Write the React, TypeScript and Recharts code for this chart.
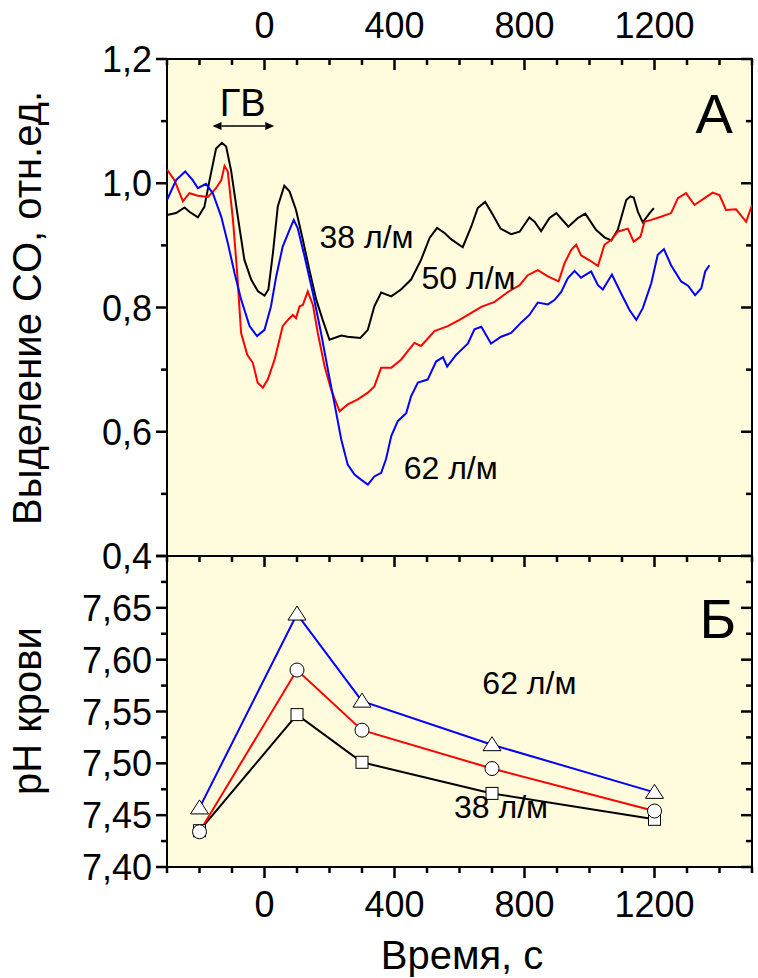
import React from 'react'
import {
  LineChart,
  Line,
  XAxis,
  YAxis,
  CartesianGrid,
  ReferenceArea,
  ReferenceDot,
  ReferenceLine,
} from 'recharts'

const FONT = '"Liberation Sans", Arial, sans-serif'
const PANEL_BG = '#fffbdc'

// time axis, seconds
const TIME_TICKS = [-300, -200, -100, 0, 100, 200, 300, 400, 500, 600, 700, 800, 900, 1000, 1100, 1200, 1300, 1400, 1500]
const TIME_MAJOR = [0, 400, 800, 1200]
const CO_TICKS = [0.4, 0.5, 0.6, 0.7, 0.8, 0.9, 1.0, 1.1, 1.2]
const CO_MAJOR = [0.4, 0.6, 0.8, 1.0, 1.2]
const PH_TICKS = [7.4, 7.425, 7.45, 7.475, 7.5, 7.525, 7.55, 7.575, 7.6, 7.625, 7.65, 7.675, 7.7]
const PH_MAJOR = [7.4, 7.45, 7.5, 7.55, 7.6, 7.65]

// panel A, CO release [time, rel. units]
const co38: [number, number][] = [
  [-300, 0.949], [-272, 0.952], [-246, 0.961], [-231, 0.954], [-205, 0.945], [-185, 0.962], [-169, 1.005],
  [-149, 1.056], [-131, 1.065], [-118, 1.059], [-103, 1.021], [-82, 0.946], [-62, 0.877], [-41, 0.845],
  [-20, 0.826], [0, 0.819], [12, 0.829], [26, 0.888], [41, 0.963], [61, 0.996], [77, 0.987], [97, 0.957],
  [118, 0.909], [138, 0.861], [159, 0.813], [179, 0.78], [200, 0.748], [236, 0.755], [256, 0.753],
  [295, 0.751], [318, 0.764], [338, 0.802], [359, 0.824], [390, 0.818], [420, 0.829], [451, 0.845],
  [482, 0.877], [508, 0.912], [531, 0.928], [554, 0.92], [574, 0.91], [610, 0.897], [636, 0.93],
  [656, 0.96], [679, 0.97], [703, 0.949], [726, 0.927], [759, 0.918], [785, 0.922], [815, 0.945],
  [831, 0.938], [851, 0.923], [877, 0.944], [898, 0.952], [935, 0.93], [964, 0.944], [987, 0.951],
  [1020, 0.925], [1046, 0.913], [1067, 0.908], [1087, 0.925], [1113, 0.973], [1126, 0.979], [1136, 0.977],
  [1149, 0.954], [1164, 0.937], [1185, 0.952], [1198, 0.96],
]

const co50: [number, number][] = [
  [-300, 1.022], [-277, 1.005], [-251, 0.971], [-231, 0.984], [-205, 0.98], [-174, 0.978], [-149, 0.992],
  [-133, 1.005], [-123, 1.028], [-113, 1.019], [-97, 0.941], [-84, 0.855], [-72, 0.759], [-53, 0.724],
  [-36, 0.711], [-21, 0.679], [-5, 0.671], [10, 0.684], [31, 0.716], [46, 0.748], [56, 0.77], [72, 0.78],
  [87, 0.788], [97, 0.783], [108, 0.802], [118, 0.804], [133, 0.826], [149, 0.804], [164, 0.759],
  [185, 0.705], [205, 0.668], [231, 0.633], [256, 0.644], [287, 0.652], [318, 0.663], [338, 0.673],
  [359, 0.703], [390, 0.703], [420, 0.716], [461, 0.743], [482, 0.738], [523, 0.762], [564, 0.77],
  [600, 0.78], [626, 0.788], [667, 0.801], [708, 0.809], [749, 0.825], [785, 0.836], [810, 0.852],
  [841, 0.86], [872, 0.85], [905, 0.842], [923, 0.871], [944, 0.893], [959, 0.901], [974, 0.884],
  [1000, 0.876], [1026, 0.867], [1046, 0.901], [1067, 0.909], [1087, 0.922], [1118, 0.927], [1136, 0.906],
  [1157, 0.914], [1169, 0.938], [1190, 0.941], [1220, 0.946], [1251, 0.952], [1272, 0.976], [1297, 0.984],
  [1323, 0.965], [1354, 0.976], [1379, 0.985], [1400, 0.981], [1420, 0.957], [1451, 0.958], [1482, 0.938],
  [1500, 0.965],
]

const co62: [number, number][] = [
  [-300, 0.973], [-272, 1.005], [-244, 1.019], [-221, 1.005], [-205, 0.992], [-180, 0.999], [-159, 0.984],
  [-133, 0.946], [-113, 0.904], [-92, 0.855], [-72, 0.813], [-46, 0.77], [-23, 0.754], [0, 0.764],
  [20, 0.802], [36, 0.85], [56, 0.898], [77, 0.925], [90, 0.941], [102, 0.928], [123, 0.883], [149, 0.823],
  [174, 0.759], [195, 0.7], [215, 0.646], [236, 0.588], [256, 0.547], [277, 0.531], [297, 0.523],
  [318, 0.515], [338, 0.528], [359, 0.534], [374, 0.556], [390, 0.593], [410, 0.617], [436, 0.63],
  [451, 0.657], [472, 0.679], [502, 0.684], [528, 0.713], [549, 0.72], [562, 0.705], [590, 0.724],
  [600, 0.729], [626, 0.742], [646, 0.765], [667, 0.769], [697, 0.742], [728, 0.753], [759, 0.759],
  [790, 0.776], [815, 0.788], [841, 0.808], [872, 0.805], [892, 0.812], [913, 0.825], [933, 0.847],
  [954, 0.859], [974, 0.848], [1005, 0.858], [1026, 0.836], [1041, 0.829], [1069, 0.853], [1097, 0.823],
  [1123, 0.796], [1144, 0.78], [1164, 0.799], [1190, 0.839], [1210, 0.885], [1229, 0.894], [1251, 0.868],
  [1282, 0.842], [1303, 0.835], [1325, 0.82], [1344, 0.831], [1356, 0.858], [1369, 0.868],
]

// panel Б, blood pH
const PH_TIME = [-200, 100, 300, 700, 1200]
const ph38 = [7.435, 7.547, 7.501, 7.471, 7.446]
const ph50 = [7.434, 7.59, 7.532, 7.495, 7.454]
const ph62 = [7.457, 7.644, 7.56, 7.518, 7.472]

const toPoints = (pairs: [number, number][]) => pairs.map(([t, v]) => ({ t, v }))
const phPoints = (vals: number[]) => PH_TIME.map((t, i) => ({ t, v: vals[i] }))

const fmtCo = (v: number) => v.toFixed(1).replace('.', ',')
const fmtPh = (v: number) => v.toFixed(2).replace('.', ',')

const MAJOR = 11
const MINOR = 6
const TW = 2.5 // tick mark thickness

const timeLabel = (dy: number) => (p: any) => (
  <text x={p.x} y={p.y + dy} textAnchor="middle" fontSize={36} fontFamily={FONT} fill="#000">
    {p.payload.value}
  </text>
)

const valueLabel = (fmt: (v: number) => string) => (p: any) => (
  <text x={p.x - 15} y={p.y + 13} textAnchor="end" fontSize={36} fontFamily={FONT} fill="#000">
    {fmt(p.payload.value)}
  </text>
)

// tick marks sit on the ends of full-span reference segments
// vertical: inward from the top edge, optionally outward below the bottom edge
const vTick = (len: number, outBottom: boolean) => (p: any) => {
  const x = Number(p.x1)
  const top = Math.min(Number(p.y1), Number(p.y2))
  const bot = Math.max(Number(p.y1), Number(p.y2))
  return (
    <g>
      <rect x={x - TW / 2} y={top} width={TW} height={len} fill="#000" />
      {outBottom && <rect x={x - TW / 2} y={bot} width={TW} height={len} fill="#000" />}
    </g>
  )
}

// horizontal: outward on the left edge, inward on the right edge
const hTick = (len: number) => (p: any) => {
  const y = Number(p.y1)
  const l = Math.min(Number(p.x1), Number(p.x2))
  const r = Math.max(Number(p.x1), Number(p.x2))
  return (
    <g>
      <rect x={l - len} y={y - TW / 2} width={len} height={TW} fill="#000" />
      <rect x={r - len} y={y - TW / 2} width={len} height={TW} fill="#000" />
    </g>
  )
}

const note = (text: string, size: number) => (p: any) => (
  <text x={p.cx} y={p.cy} dy="0.36em" textAnchor="middle" fontSize={size} fontFamily={FONT} fill="#000">
    {text}
  </text>
)

function GvArrow(p: any) {
  const { x1, y1, x2, y2 } = p
  const h = 9
  const w = 4
  return (
    <g>
      <line x1={x1 + h} y1={y1} x2={x2 - h} y2={y2} stroke="#000" strokeWidth={1.5} />
      <polygon points={`${x1},${y1} ${x1 + h},${y1 - w} ${x1 + h},${y1 + w}`} fill="#000" />
      <polygon points={`${x2},${y2} ${x2 - h},${y2 - w} ${x2 - h},${y2 + w}`} fill="#000" />
    </g>
  )
}

function TriangleDot(p: any) {
  const { cx, cy } = p
  if (cx == null || cy == null) return <g />
  return <polygon points={`${cx},${cy - 8} ${cx - 9},${cy + 6} ${cx + 9},${cy + 6}`} fill="#fff" stroke="#000" strokeWidth={1} />
}

function CircleDot(p: any) {
  const { cx, cy } = p
  if (cx == null || cy == null) return <g />
  return <circle cx={cx} cy={cy} r={7} fill="#fff" stroke="#000" strokeWidth={1} />
}

function SquareDot(p: any) {
  const { cx, cy } = p
  if (cx == null || cy == null) return <g />
  return <rect x={cx - 6} y={cy - 6} width={12} height={12} fill="#fff" stroke="#000" strokeWidth={1} />
}

const axisCommon = {
  type: 'number' as const,
  axisLine: false,
  tickLine: false,
  tickSize: 0,
  tickMargin: 0,
  interval: 0 as const,
  allowDataOverflow: true,
}

const isIn = (list: number[], v: number) => list.some((m) => Math.abs(m - v) < 1e-6)

export default function App() {
  return (
    <div style={{ position: 'absolute', left: 0, top: 0, width: 758, height: 978, background: '#fff' }}>
      {/* A: CO release */}
      <div style={{ position: 'absolute', left: 0, top: 0 }}>
        <LineChart width={758} height={600} margin={{ top: 0, right: 6, bottom: 44, left: 0 }}>
          <CartesianGrid xAxisId="t" yAxisId="co" fill={PANEL_BG} horizontal={false} vertical={false} />
          <XAxis {...axisCommon} xAxisId="t" orientation="top" dataKey="t" domain={[-300, 1500]} ticks={TIME_MAJOR} height={59} tick={timeLabel(-21)} />
          <YAxis {...axisCommon} yAxisId="co" domain={[0.4, 1.2]} ticks={CO_MAJOR} width={167} tick={valueLabel(fmtCo)} />
          <Line xAxisId="t" yAxisId="co" data={toPoints(co38)} dataKey="v" stroke="#000" strokeWidth={2} dot={false} activeDot={false} isAnimationActive={false} />
          <Line xAxisId="t" yAxisId="co" data={toPoints(co50)} dataKey="v" stroke="#ff0000" strokeWidth={2} dot={false} activeDot={false} isAnimationActive={false} />
          <Line xAxisId="t" yAxisId="co" data={toPoints(co62)} dataKey="v" stroke="#0000ff" strokeWidth={2} dot={false} activeDot={false} isAnimationActive={false} />
          <ReferenceArea xAxisId="t" yAxisId="co" x1={-300} x2={1500} y1={0.4} y2={1.2} fill="none" stroke="#000" strokeWidth={2} />
          {TIME_TICKS.map((v) => (
            <ReferenceLine
              key={`ax${v}`}
              xAxisId="t"
              yAxisId="co"
              ifOverflow="visible"
              segment={[{ x: v, y: 0.4 }, { x: v, y: 1.2 }]}
              shape={vTick(isIn(TIME_MAJOR, v) ? MAJOR : MINOR, false)}
            />
          ))}
          {CO_TICKS.map((v) => (
            <ReferenceLine
              key={`ay${v}`}
              xAxisId="t"
              yAxisId="co"
              ifOverflow="visible"
              segment={[{ x: -300, y: v }, { x: 1500, y: v }]}
              shape={hTick(isIn(CO_MAJOR, v) ? MAJOR : MINOR)}
            />
          ))}
          <ReferenceLine xAxisId="t" yAxisId="co" segment={[{ x: -160, y: 1.092 }, { x: 30, y: 1.092 }]} shape={GvArrow} />
          <ReferenceDot xAxisId="t" yAxisId="co" x={-67} y={1.13} r={0} shape={note('ГВ', 38)} />
          <ReferenceDot xAxisId="t" yAxisId="co" x={1384} y={1.113} r={0} shape={note('А', 56)} />
          <ReferenceDot xAxisId="t" yAxisId="co" x={314} y={0.915} r={0} shape={note('38 л/м', 32)} />
          <ReferenceDot xAxisId="t" yAxisId="co" x={628} y={0.849} r={0} shape={note('50 л/м', 32)} />
          <ReferenceDot xAxisId="t" yAxisId="co" x={573} y={0.543} r={0} shape={note('62 л/м', 32)} />
        </LineChart>
      </div>

      {/* Б: blood pH */}
      <div style={{ position: 'absolute', left: 0, top: 546 }}>
        <LineChart width={758} height={432} margin={{ top: 10, right: 6, bottom: 0, left: 0 }}>
          <CartesianGrid xAxisId="tb" yAxisId="ph" fill={PANEL_BG} horizontal={false} vertical={false} />
          <XAxis {...axisCommon} xAxisId="tb" orientation="bottom" dataKey="t" domain={[-300, 1500]} ticks={TIME_MAJOR} height={111} tick={timeLabel(50)} />
          <YAxis {...axisCommon} yAxisId="ph" domain={[7.4, 7.7]} ticks={PH_MAJOR} width={167} tick={valueLabel(fmtPh)} />
          <Line xAxisId="tb" yAxisId="ph" data={phPoints(ph38)} dataKey="v" stroke="#000" strokeWidth={2} dot={SquareDot} activeDot={false} isAnimationActive={false} />
          <Line xAxisId="tb" yAxisId="ph" data={phPoints(ph50)} dataKey="v" stroke="#ff0000" strokeWidth={2} dot={CircleDot} activeDot={false} isAnimationActive={false} />
          <Line xAxisId="tb" yAxisId="ph" data={phPoints(ph62)} dataKey="v" stroke="#0000ff" strokeWidth={2} dot={TriangleDot} activeDot={false} isAnimationActive={false} />
          <ReferenceArea xAxisId="tb" yAxisId="ph" x1={-300} x2={1500} y1={7.4} y2={7.7} fill="none" stroke="#000" strokeWidth={2} />
          {TIME_TICKS.map((v) => (
            <ReferenceLine
              key={`bx${v}`}
              xAxisId="tb"
              yAxisId="ph"
              ifOverflow="visible"
              segment={[{ x: v, y: 7.4 }, { x: v, y: 7.7 }]}
              shape={vTick(isIn(TIME_MAJOR, v) ? MAJOR : MINOR, true)}
            />
          ))}
          {PH_TICKS.map((v) => (
            <ReferenceLine
              key={`by${v}`}
              xAxisId="tb"
              yAxisId="ph"
              ifOverflow="visible"
              segment={[{ x: -300, y: v }, { x: 1500, y: v }]}
              shape={hTick(isIn(PH_MAJOR, v) || v > 7.69 ? MAJOR : MINOR)}
            />
          ))}
          <ReferenceDot xAxisId="tb" yAxisId="ph" x={1395} y={7.64} r={0} shape={note('Б', 56)} />
          <ReferenceDot xAxisId="tb" yAxisId="ph" x={815} y={7.578} r={0} shape={note('62 л/м', 32)} />
          <ReferenceDot xAxisId="tb" yAxisId="ph" x={728} y={7.458} r={0} shape={note('38 л/м', 32)} />
        </LineChart>
      </div>

      {/* axis titles */}
      <svg width={758} height={978} style={{ position: 'absolute', left: 0, top: 0, pointerEvents: 'none' }}>
        <text transform="translate(41, 308) rotate(-90)" textAnchor="middle" fontSize={40} fontFamily={FONT} fill="#000">
          Выделение CO, отн.ед.
        </text>
        <text transform="translate(41, 711) rotate(-90)" textAnchor="middle" fontSize={40} fontFamily={FONT} fill="#000">
          pH крови
        </text>
        <text x={462} y={969} textAnchor="middle" fontSize={40} fontFamily={FONT} fill="#000">
          Время, с
        </text>
      </svg>
    </div>
  )
}
